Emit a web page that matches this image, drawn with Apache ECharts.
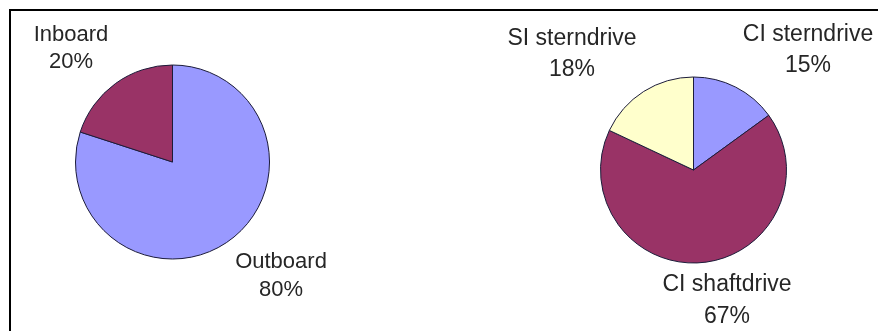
<!DOCTYPE html>
<html>
<head>
<meta charset="utf-8">
<script src="https://cdn.jsdelivr.net/npm/echarts@6/dist/echarts.min.js"></script>
<style>
  html, body { margin: 0; padding: 0; background: #fff; }
  #chart { width: 878px; height: 331px; }
</style>
</head>
<body>
<div id="chart"></div>
<script>
// Engine type split (left) and diesel/gas drive split (right)
const leftCategories = ['Outboard', 'Inboard'];
const leftValues = [80, 20];
const rightCategories = ['CI sterndrive', 'CI shaftdrive', 'SI sterndrive'];
const rightValues = [15, 67, 18];

const BLUE = '#9999FF', MAROON = '#993366', CREAM = '#FFFFCC';

// Label anchor points (centre of each two-line label block)
const leftLabelPos = [
  { x: 281, y: 276, lh: 28 },
  { x: 71, y: 48, lh: 27 }
];
const rightLabelPos = [
  { x: 808, y: 50, lh: 31 },
  { x: 727, y: 301, lh: 32 },
  { x: 572, y: 54, lh: 31 }
];

function pieSeries(cats, vals, colors, center, radius, pos, fontSize) {
  return {
    type: 'pie',
    center: center,
    radius: radius,
    startAngle: 90,
    clockwise: true,
    animation: false,
    silent: true,
    data: cats.map((c, i) => ({
      name: c,
      value: vals[i],
      itemStyle: { color: colors[i] },
      label: { lineHeight: pos[i].lh }
    })),
    itemStyle: { borderColor: '#1c1c3a', borderWidth: 1 },
    label: {
      show: true,
      position: 'outside',
      formatter: '{b}\n{d}%',
      fontFamily: '"Liberation Sans", Arial, sans-serif',
      fontSize: fontSize,
      color: '#262626',
      align: 'center',
      overflow: 'none',
      width: 200
    },
    labelLine: { show: false },
    labelLayout: function (p) {
      const q = pos[p.dataIndex];
      return { x: q.x, y: q.y, align: 'center', verticalAlign: 'middle', hideOverlap: false, moveOverlap: false };
    }
  };
}

const chart = echarts.init(document.getElementById('chart'), null, { renderer: 'canvas' });
chart.setOption({
  backgroundColor: '#ffffff',
  graphic: [{
    type: 'polyline',
    shape: { points: [[10, 340], [10, 10], [890, 10]] },
    style: { stroke: '#000', lineWidth: 2, fill: null },
    silent: true
  }],
  series: [
    pieSeries(leftCategories, leftValues, [BLUE, MAROON], [172.5, 162], 97, leftLabelPos, 22),
    pieSeries(rightCategories, rightValues, [BLUE, MAROON, CREAM], [693.5, 170], 93, rightLabelPos, 23)
  ]
});
</script>
</body>
</html>
